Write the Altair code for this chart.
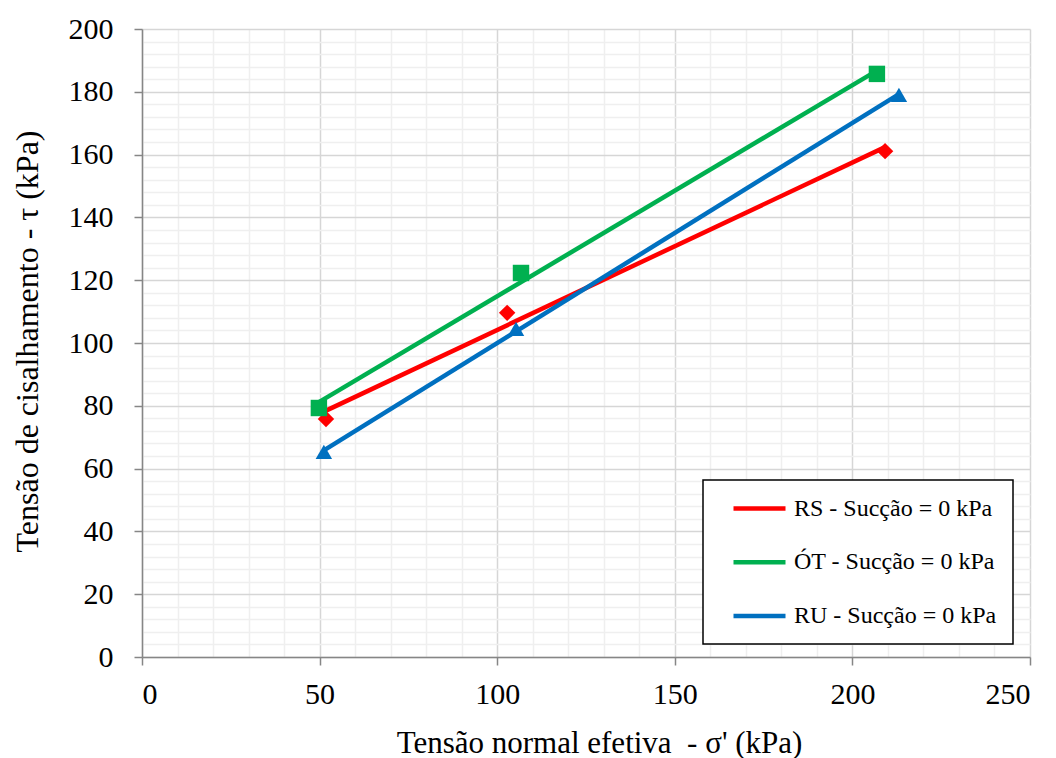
import altair as alt
import pandas as pd

series_names = ["RS - Sucção = 0 kPa", "ÓT - Sucção = 0 kPa", "RU - Sucção = 0 kPa"]
series_colors = ["#FF0000", "#00B050", "#0070C0"]
series_shapes = ["diamond", "square", "triangle-up"]

rs_x = [51.8, 102.8, 209.2]
rs_y = [75.8, 109.6, 161.1]
ot_x = [49.8, 106.7, 206.9]
ot_y = [79.3, 122.3, 185.7]
ru_x = [51.2, 105.3, 213.1]
ru_y = [65.3, 104.5, 179.0]

x_title = "Tensão normal efetiva \u00a0- σ' (kPa)"
y_title = "Tensão de cisalhamento - τ (kPa)"

rows = []
for name, xs, ys in zip(series_names, [rs_x, ot_x, ru_x], [rs_y, ot_y, ru_y]):
    for xv, yv in zip(xs, ys):
        rows.append({"serie": name, "x": xv, "y": yv})
df = pd.DataFrame(rows)

FONT = "Liberation Serif"

xscale = alt.Scale(domain=[0, 250], nice=False, zero=False)
yscale = alt.Scale(domain=[0, 200], nice=False, zero=False)
color = alt.Color("serie:N", scale=alt.Scale(domain=series_names, range=series_colors),
                  legend=alt.Legend(title=None, orient="none", legendX=561, legendY=451,
                                    symbolType="M-2.6,0H2.6", symbolSize=400, symbolStrokeWidth=4.5,
                                    symbolOffset=28,
                                    labelFontSize=24, labelFont=FONT, labelColor="black",
                                    labelLimit=400, labelOffset=22,
                                    fillColor="white", strokeColor="black",
                                    padding=16, rowPadding=28.75, direction="vertical"))


def make_xaxis():
    return alt.Axis(values=list(range(0, 251, 10)), title=x_title,
                    labelExpr="datum.value % 50 === 0 ? datum.label : ''", labelOverlap=False,
                    gridColor={"expr": "datum.value % 50 === 0 ? '#d6d6d6' : '#efefef'"},
                    tickOpacity={"expr": "datum.value % 50 === 0 ? 1 : 0"},
                    gridWidth=1.5, titleX=457, titleY=95, titleBaseline="alphabetic",
                    titleAlign="center")


def make_yaxis():
    return alt.Axis(values=list(range(0, 201, 4)), title=y_title,
                    labelExpr="datum.value % 20 === 0 ? datum.label : ''", labelOverlap=False,
                    gridColor={"expr": "datum.value % 20 === 0 ? '#d6d6d6' : '#efefef'"},
                    tickOpacity={"expr": "datum.value % 20 === 0 ? 1 : 0"},
                    gridWidth=1.5, titleX=-115, titleY=312, titleBaseline="middle",
                    titleAlign="center", titleAngle=270)


base = alt.Chart(df)

lines = base.transform_regression("x", "y", groupby=["serie"]).mark_line(strokeWidth=4.5).encode(
    x=alt.X("x:Q", scale=xscale, axis=make_xaxis()),
    y=alt.Y("y:Q", scale=yscale, axis=make_yaxis()),
    color=color,
)

points = base.mark_point(filled=True, opacity=1, size=270).encode(
    x=alt.X("x:Q", scale=xscale, axis=make_xaxis()),
    y=alt.Y("y:Q", scale=yscale, axis=make_yaxis()),
    color=alt.Color("serie:N", scale=alt.Scale(domain=series_names, range=series_colors), legend=None),
    shape=alt.Shape("serie:N", scale=alt.Scale(domain=series_names, range=series_shapes), legend=None),
)

chart = alt.layer(lines, points).resolve_scale(color="independent", shape="independent").properties(
    width=888, height=628,
    autosize=alt.AutoSizeParams(type="none"),
    padding={"left": 134, "top": 21, "right": 18, "bottom": 101},
    background="white",
).configure_axis(
    labelFont=FONT, labelFontSize=30, labelColor="black", labelOverlap=False,
    titleFont=FONT, titleColor="black", titleFontWeight="normal",
    domainColor="#868686", domainWidth=1.5, tickColor="#868686", tickWidth=1.5, tickSize=8,
).configure_axisX(
    labelPadding=14, titleFontSize=31,
).configure_axisY(
    labelPadding=21, titleFontSize=32,
).configure_legend(strokeWidth=1.5).configure_view(stroke=None)

chart.save("out.html", embed_options={"renderer": "svg", "actions": False})
